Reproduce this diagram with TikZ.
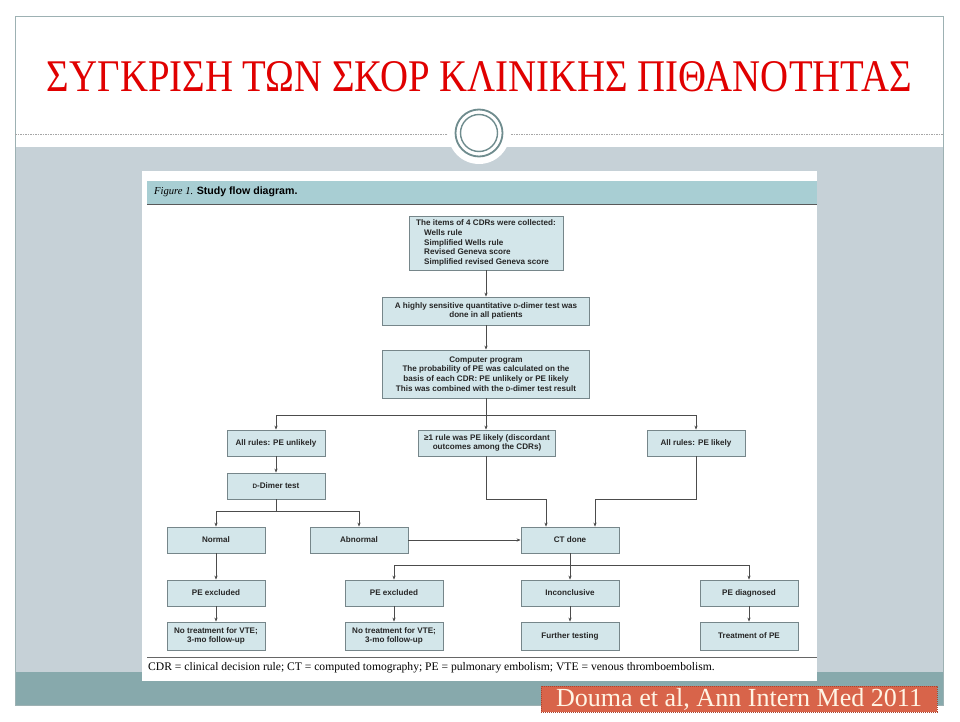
\documentclass[tikz,border=0pt]{standalone}
\usepackage{fontspec}
\setmainfont{Liberation Serif}
\setsansfont{Liberation Sans}
\usetikzlibrary{arrows.meta, positioning, calc}
\definecolor{SlideGray}{HTML}{C6D1D7}
\definecolor{SlideTeal}{HTML}{87A9AC}
\definecolor{SlideEdge}{HTML}{9DB1B3}
\definecolor{SlideRing}{HTML}{6F8C8E}
\definecolor{TitleRed}{HTML}{E00000}
\definecolor{FigBand}{HTML}{A8CED3}
\definecolor{FigBox}{HTML}{D3E6EA}
\definecolor{FigEdge}{HTML}{76868A}
\definecolor{CiteOrange}{HTML}{D8644A}
\definecolor{CiteEdge}{HTML}{A8442F}
\definecolor{CiteText}{HTML}{FFF4E4}
\newcommand{\dsmall}{\scalebox{0.78}{D}}

\begin{document}
\begin{tikzpicture}[x=1pt, y=-1pt,
    flowbox/.style={draw=FigEdge, line width=0.8pt, fill=FigBox, minimum width=98pt, minimum height=26pt, inner sep=2pt, align=center, text=black!85, font=\sffamily\bfseries\fontsize{8.1}{9.7}\selectfont},
    flowline/.style={draw=black!70, line width=0.6pt},
    flowarrow/.style={flowline, -{Stealth[length=4pt, width=3.2pt]}}
  ]
    \useasboundingbox (0,0) rectangle (960,722);
    \fill[white] (0,0) rectangle (960,722);

    % slide frame
    \fill[white] (15,16) rectangle (943,147);
    \fill[SlideGray] (15,147) rectangle (943,672);
    \fill[SlideTeal] (15,672) rectangle (943,705);
    \draw[SlideEdge, line width=0.8pt] (15,16) rectangle (943,705);
    \draw[gray!70, dashed, dash pattern=on 1.5pt off 1pt, line width=0.6pt] (15,134) -- (448,134);
    \draw[gray!70, dashed, dash pattern=on 1.5pt off 1pt, line width=0.6pt] (511,134) -- (943,134);
    \fill[white] (479,133) circle[radius=31];
    \draw[SlideRing, line width=1.8pt] (479,133) circle[radius=23.5];
    \draw[SlideRing, line width=1.4pt] (479,133) circle[radius=18.5];

    \node[inner sep=0pt, text=TitleRed] (title) at (479.5,77) {\resizebox{865pt}{30pt}{\fontsize{45}{45}\selectfont ΣΥΓΚΡΙΣΗ ΤΩΝ ΣΚΟΡ ΚΛΙΝΙΚΗΣ ΠΙΘΑΝΟΤΗΤΑΣ}};

    % figure sheet
    \fill[white] (142,171) rectangle (817,681);
    \fill[FigBand] (147,181) rectangle (817,204);
    \draw[black!65, line width=0.8pt] (147,204) -- (817,204);
    \node[anchor=west, inner sep=0pt] (figcap) at (154,192) {\fontsize{10.6}{12}\selectfont\textit{Figure 1.} \sffamily\bfseries Study flow diagram.};

    \node[flowbox, minimum width=154pt, minimum height=54pt, align=left, inner sep=1pt] (items) at (486,243) {The items of 4 CDRs were collected:\\
      \hspace*{8pt}Wells rule\\
      \hspace*{8pt}Simplified Wells rule\\
      \hspace*{8pt}Revised Geneva score\\
      \hspace*{8pt}Simplified revised Geneva score};
    \node[flowbox, minimum width=207pt, minimum height=28pt] (dtest) at (486,311) {A highly sensitive quantitative \dsmall-dimer test was\\ done in all patients};
    \node[flowbox, minimum width=207pt, minimum height=48pt] (program) at (486,374) {Computer program\\ The probability of PE was calculated on the\\ basis of each CDR: PE unlikely or PE likely\\ This was combined with the \dsmall-dimer test result};

    \node[flowbox] (unlikely) at (276,443) {All rules: PE unlikely};
    \node[flowbox, minimum width=137pt] (discord) at (487,443) {≥1 rule was PE likely (discordant\\ outcomes among the CDRs)};
    \node[flowbox] (likely) at (696,443) {All rules: PE likely};
    \node[flowbox] (dimer) at (276,486) {\dsmall-Dimer test};

    \node[flowbox] (normal) at (216,540) {Normal};
    \node[flowbox] (abnormal) at (359,540) {Abnormal};
    \node[flowbox] (ctdone) at (570,540) {CT done};

    \node[flowbox] (excl1) at (216,593) {PE excluded};
    \node[flowbox] (excl2) at (394,593) {PE excluded};
    \node[flowbox] (inconcl) at (570,593) {Inconclusive};
    \node[flowbox] (diagn) at (749,593) {PE diagnosed};

    \node[flowbox, minimum height=28pt] (notreat1) at (216,636) {No treatment for VTE;\\ 3-mo follow-up};
    \node[flowbox, minimum height=28pt] (notreat2) at (394,636) {No treatment for VTE;\\ 3-mo follow-up};
    \node[flowbox, minimum height=28pt] (further) at (570,636) {Further testing};
    \node[flowbox, minimum height=28pt] (treat) at (749,636) {Treatment of PE};

    \coordinate (split1) at (486,415);
    \coordinate (split2) at (276,511);
    \coordinate (split3) at (570,565);
    \coordinate (jog1) at (546,499);
    \coordinate (jog2) at (595,499);

    \draw[flowarrow] (items) -- (dtest);
    \draw[flowarrow] (dtest) -- (program);
    \draw[flowline] (program.south) -- (split1);
    \draw[flowarrow] (split1) -| (unlikely.north);
    \draw[flowarrow] (split1) -- (split1 |- discord.north);
    \draw[flowarrow] (split1) -| (likely.north);
    \draw[flowarrow] (unlikely) -- (dimer);
    \draw[flowline] (dimer.south) -- (split2);
    \draw[flowarrow] (split2) -| (normal.north);
    \draw[flowarrow] (split2) -| (abnormal.north);
    \draw[flowarrow] (discord.south -| split1) |- (jog1) -- (jog1 |- ctdone.north);
    \draw[flowarrow] (likely.south) |- (jog2) -- (jog2 |- ctdone.north);
    \draw[flowarrow] (abnormal) -- (ctdone);
    \draw[flowline] (ctdone.south) -- (split3);
    \draw[flowarrow] (split3) -| (excl2.north);
    \draw[flowarrow] (split3) -- (inconcl);
    \draw[flowarrow] (split3) -| (diagn.north);
    \draw[flowarrow] (normal) -- (excl1);
    \draw[flowarrow] (excl1) -- (notreat1);
    \draw[flowarrow] (excl2) -- (notreat2);
    \draw[flowarrow] (inconcl) -- (further);
    \draw[flowarrow] (diagn) -- (treat);

    \draw[black!60, line width=0.8pt] (147,657) -- (817,657);
    \node[anchor=west, inner sep=0pt] (legend) at (148,668) {\fontsize{11.6}{13}\selectfont CDR = clinical decision rule; CT = computed tomography; PE = pulmonary embolism; VTE = venous thromboembolism.};

    \node[draw=CiteEdge, dashed, dash pattern=on 1.2pt off 0.8pt, fill=CiteOrange, minimum width=396pt, minimum height=26pt, inner sep=0pt] (cite) at (739,699) {};
    \node[text=CiteText, inner sep=0pt] (citetext) at (cite) {\resizebox{366pt}{!}{\fontsize{24}{26}\selectfont Douma et al, Ann Intern Med 2011}};
\end{tikzpicture}
\end{document}
